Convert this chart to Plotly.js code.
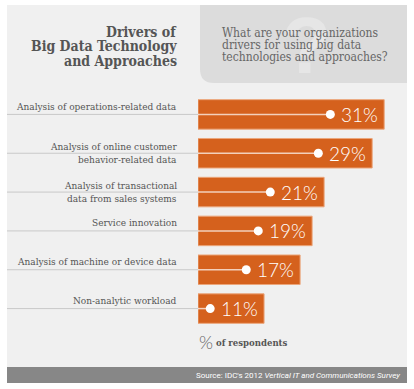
<!DOCTYPE html>
<html><head><meta charset="utf-8">
<script src="https://cdn.plot.ly/plotly-3.0.1.min.js"></script>
<style>html,body{margin:0;padding:0;background:#fff;}</style>
</head><body><div id="chart" style="width:414px;height:389px;"></div>
<script>
// ---- data ----
const categories = ["Analysis of operations-related data", "Analysis of online customer behavior-related data", "Analysis of transactional data from sales systems", "Service innovation", "Analysis of machine or device data", "Non-analytic workload"];
const labelLines = [["Analysis of operations-related data"], ["Analysis of online customer", "behavior-related data"], ["Analysis of transactional", "data from sales systems"], ["Service innovation"], ["Analysis of machine or device data"], ["Non-analytic workload"]];
const values = [31, 29, 21, 19, 17, 11];
const valueLabels = ["31%", "29%", "21%", "19%", "17%", "11%"];
const titleLines = ["Drivers of", "Big Data Technology", "and Approaches"];
const questionLines = ["What are your organizations", "drivers for using big data", "technologies and approaches?"];
const unitText = "of respondents";
const sourceText = "Source: IDC's 2012 <i>Vertical IT and Communications Survey</i>";

// ---- geometry ----
const W = 414, H = 389, L = 198, R = 7, T = 95, B = 61;
const plotW = W - L - R, plotH = H - T - B;
const xMax = 34.8;
const pxPerUnit = plotW / xMax;
const px = x => (x - L) / plotW;
const py = y => (H - B - y) / plotH;

const slab = "'DejaVu Serif Condensed', 'DejaVu Serif', serif";
const light = "Lato, 'Open Sans', sans-serif";
const ORANGE = '#d5611d';

const ctx = document.createElement('canvas').getContext('2d');
ctx.font = "300 19px Lato";

const shapes = [
  {type:'rect', xref:'paper', yref:'paper', x0:px(7), x1:px(407), y0:py(367), y1:py(5), fillcolor:'#f0f0f0', line:{width:0}, layer:'below'},
  {type:'path', xref:'paper', yref:'paper', layer:'below', fillcolor:'#dcdcdc', line:{width:0},
   path:`M ${px(200)},${py(5)} L ${px(407)},${py(5)} L ${px(407)},${py(83)} L ${px(214)},${py(83)} Q ${px(200)},${py(83)} ${px(200)},${py(69)} Z`},
  {type:'rect', xref:'paper', yref:'paper', x0:px(7), x1:px(407), y0:py(383), y1:py(367), fillcolor:'#878787', line:{width:0}, layer:'below'}
];
const annotations = [];

// watermark
annotations.push({xref:'paper', yref:'paper', x:px(306), y:py(46), text:'?', showarrow:false, xanchor:'center', yanchor:'middle',
  font:{family:"'Liberation Sans', sans-serif", size:80, color:'#e6e6e6', weight:700}});
titleLines.forEach((t, i) => annotations.push({xref:'paper', yref:'paper', x:px(179), y:py(32 + i*14.5), text:t, showarrow:false,
  xanchor:'right', yanchor:'middle', font:{family:slab, size:14, color:'#555555', weight:700}}));
questionLines.forEach((t, i) => annotations.push({xref:'paper', yref:'paper', x:px(220), y:py(33 + i*12), text:t, showarrow:false,
  xanchor:'left', yanchor:'middle', font:{family:slab, size:12, color:'#666666'}}));

categories.forEach((c, i) => {
  const v = values[i];
  const tw = ctx.measureText(valueLabels[i]).width;
  const dotX = v - (tw + 4 + 13) / pxPerUnit;
  shapes.push({type:'line', xref:'paper', yref:'y', x0:px(7), x1:0, y0:c, y1:c, line:{color:'#c9c9c9', width:1}, layer:'below'});
  shapes.push({type:'line', xref:'x', yref:'y', x0:0, x1:dotX, y0:c, y1:c, line:{color:'rgba(255,255,255,0.7)', width:1.5}, layer:'above'});
  shapes.push({type:'circle', xref:'x', yref:'y', xsizemode:'pixel', ysizemode:'pixel', xanchor:dotX, yanchor:c,
    x0:-4.5, x1:4.5, y0:-4.5, y1:4.5, fillcolor:'#ffffff', line:{width:0}, layer:'above'});
  const lines = labelLines[i];
  lines.forEach((t, j) => {
    let ys;
    if (lines.length === 1) ys = 8; else ys = 6.5 - j*13;
    annotations.push({xref:'x', yref:'y', x:0, y:c, xshift:-19, yshift:ys, text:t, showarrow:false, xanchor:'right', yanchor:'middle',
      font:{family:slab, size:10, color:'#555555'}});
  });
  annotations.push({xref:'x', yref:'y', x:v, y:c, xshift:-4, text:valueLabels[i], showarrow:false, xanchor:'right', yanchor:'middle',
    font:{family:light, size:19, color:'#ffffff', weight:300}});
});

annotations.push({xref:'paper', yref:'paper', x:px(197), y:py(342), text:'%', showarrow:false, xanchor:'left', yanchor:'middle',
  font:{family:light, size:18, color:'#666666', weight:300}});
annotations.push({xref:'paper', yref:'paper', x:px(214), y:py(342), text:unitText, showarrow:false, xanchor:'left', yanchor:'middle',
  font:{family:slab, size:9.5, color:'#555555', weight:700}});
annotations.push({xref:'paper', yref:'paper', x:px(402), y:py(375), text:sourceText, showarrow:false, xanchor:'right', yanchor:'middle',
  font:{family:"Roboto, sans-serif", size:8, color:'#ffffff'}});

const trace = {type:'bar', orientation:'h', x:values, y:categories, width:0.76,
  marker:{color:ORANGE, line:{color:'#eba57a', width:1}}, hoverinfo:'none'};

const layout = {
  width:W, height:H, margin:{l:L, r:R, t:T, b:B, pad:0},
  paper_bgcolor:'#ffffff', plot_bgcolor:'rgba(0,0,0,0)', showlegend:false,
  xaxis:{range:[0, xMax], visible:false, fixedrange:true},
  yaxis:{type:'category', range:[5.5, -0.5], visible:false, fixedrange:true},
  shapes, annotations
};
Plotly.newPlot('chart', [trace], layout, {displayModeBar:false, staticPlot:true});
</script></body></html>
